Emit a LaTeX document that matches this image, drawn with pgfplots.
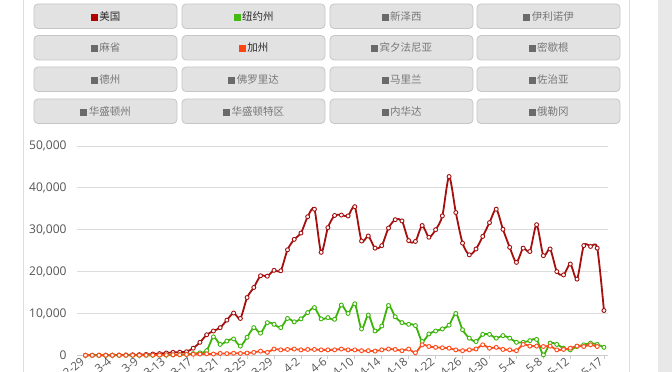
\documentclass[border=0pt]{standalone}
\usepackage{pgfplots}
\pgfplotsset{compat=1.18}
\usepackage{fontspec}
\setmainfont{Open Sans}
\newfontfamily\cjk{Noto Sans CJK SC}
\definecolor{usred}{HTML}{A50F0F}
\definecolor{nygreen}{HTML}{3CB40A}
\definecolor{caorange}{HTML}{FF4A1A}
\definecolor{sqred}{HTML}{B00000}
\definecolor{sqgreen}{HTML}{44BB11}
\definecolor{sqorange}{HTML}{FF4411}
\definecolor{sqgray}{HTML}{6A6A6A}
\definecolor{btnfill}{HTML}{E2E2E2}
\definecolor{btnborder}{HTML}{C6C6C6}
\definecolor{acttext}{HTML}{2A2A2A}
\definecolor{inacttext}{HTML}{777777}
\definecolor{gridgray}{HTML}{DCDCDC}
\definecolor{axisgray}{HTML}{CCCCCC}
\definecolor{labelgray}{HTML}{555555}
\definecolor{panelline}{HTML}{DDDDDD}
\definecolor{scrollgray}{HTML}{E8E8E8}

\newcommand{\btn}[5]{%
  \draw[rounded corners=4pt, fill=btnfill, draw=btnborder, line width=0.8pt]
    (#1,{372-#2}) rectangle ({#1+143},{372-#2-24.5});
  \node[inner sep=0pt, text=#5, font=\cjk\fontsize{10.5}{12}\selectfont]
    at ({#1+71.5},{372-#2-12.3}) {\textcolor{#4}{\rule[-0.3pt]{7pt}{7pt}}\hspace{1.5pt}#3};
}

\begin{document}
\begin{tikzpicture}
\useasboundingbox (0pt,0pt) rectangle (672pt,372pt);
\begin{scope}[x=1pt,y=1pt]
  \fill[white] (0,0) rectangle (672,372);
  \fill[scrollgray] (658,0) rectangle (672,372);
  \draw[panelline, line width=0.8pt] (23,0) -- (23,372);
  \draw[panelline, line width=0.8pt] (629,0) -- (629,372);
  % row 1
  \btn{34}{4}{美国}{sqred}{acttext}
  \btn{182}{4}{纽约州}{sqgreen}{acttext}
  \btn{330}{4}{新泽西}{sqgray}{inacttext}
  \btn{477}{4}{伊利诺伊}{sqgray}{inacttext}
  % row 2
  \btn{34}{35.5}{麻省}{sqgray}{inacttext}
  \btn{182}{35.5}{加州}{sqorange}{acttext}
  \btn{330}{35.5}{宾夕法尼亚}{sqgray}{inacttext}
  \btn{477}{35.5}{密歇根}{sqgray}{inacttext}
  % row 3
  \btn{34}{67}{德州}{sqgray}{inacttext}
  \btn{182}{67}{佛罗里达}{sqgray}{inacttext}
  \btn{330}{67}{马里兰}{sqgray}{inacttext}
  \btn{477}{67}{佐治亚}{sqgray}{inacttext}
  % row 4
  \btn{34}{99}{华盛顿州}{sqgray}{inacttext}
  \btn{182}{99}{华盛顿特区}{sqgray}{inacttext}
  \btn{330}{99}{内华达}{sqgray}{inacttext}
  \btn{477}{99}{俄勒冈}{sqgray}{inacttext}
\end{scope}
\begin{axis}[
  at={(77pt,16.7pt)}, anchor=south west,
  scale only axis, width=531pt, height=209.3pt,
  xmin=-1.26, xmax=77.6, ymin=0, ymax=50000,
  enlargelimits=false, clip=false,
  axis x line*=bottom, axis y line*=left,
  x axis line style={draw=axisgray, line width=0.9pt},
  y axis line style={draw=none},
  ymajorgrids, grid style={draw=gridgray, line width=0.9pt},
  ytick={0,10000,20000,30000,40000,50000},
  scaled y ticks=false,
  /pgf/number format/assume math mode=true,
  yticklabel style={/pgf/number format/fixed, /pgf/number format/1000 sep={,},
     font=\fontsize{12}{14}\selectfont, text=labelgray, xshift=-3pt},
  xtick={0,4,8,12,16,20,24,28,32,36,40,44,48,52,56,60,64,68,72,77},
  xticklabels={2-29,3-4,3-9,3-13,3-17,3-21,3-25,3-29,4-2,4-6,4-10,4-14,4-18,4-22,4-26,4-30,5-4,5-8,5-12,5-17},
  xticklabel style={rotate=40, anchor=east, font=\fontsize{11.5}{13}\selectfont, text=labelgray, xshift=1pt, yshift=1.5pt},
  x tick style={draw=axisgray, line width=0.8pt},
  y tick style={draw=none},
  major tick length=4pt, tick align=outside,
  every axis plot/.append style={smooth, tension=0.45, line width=1.8pt, mark=*, mark size=2pt,
     mark options={fill=white, line width=0.9pt}},
]
\addplot[color=usred] coordinates {
(0,10)(1,10)(2,20)(3,30)(4,40)(5,60)(6,80)(7,120)(8,150)(9,200)
(10,300)(11,400)(12,550)(13,700)(14,750)(15,850)(16,1700)(17,3100)(18,4900)(19,5800)
(20,6600)(21,8400)(22,10100)(23,8800)(24,13800)(25,16200)(26,19000)(27,18900)(28,20300)(29,20200)
(30,25200)(31,27700)(32,29200)(33,33100)(34,34900)(35,24600)(36,30500)(37,33400)(38,33500)(39,33300)
(40,35500)(41,27300)(42,28500)(43,25600)(44,26200)(45,30400)(46,32400)(47,32100)(48,27400)(49,27200)
(50,31000)(51,28200)(52,30000)(53,33300)(54,42700)(55,34100)(56,26800)(57,24000)(58,25400)(59,28400)
(60,31700)(61,34900)(62,30100)(63,25800)(64,22200)(65,25600)(66,24800)(67,31200)(68,23800)(69,25400)
(70,20000)(71,19200)(72,21800)(73,18200)(74,26200)(75,26000)(76,25600)(77,10700)
};
\addplot[color=nygreen] coordinates {
(0,0)(1,0)(2,0)(3,0)(4,0)(5,0)(6,0)(7,0)(8,0)(9,0)
(10,0)(11,30)(12,50)(13,100)(14,150)(15,200)(16,400)(17,600)(18,1100)(19,4400)
(20,2600)(21,3400)(22,3900)(23,2200)(24,4300)(25,6600)(26,5300)(27,7800)(28,7400)(29,6600)
(30,8800)(31,8000)(32,8700)(33,10200)(34,11400)(35,8700)(36,9000)(37,8600)(38,12000)(39,10000)
(40,12300)(41,6300)(42,9600)(43,5800)(44,7000)(45,11900)(46,9200)(47,7800)(48,7400)(49,7100)
(50,3300)(51,5100)(52,5800)(53,6300)(54,7200)(55,10000)(56,6100)(57,4100)(58,3300)(59,5000)
(60,5000)(61,4100)(62,4700)(63,4100)(64,3100)(65,3100)(66,3500)(67,3800)(68,100)(69,2900)
(70,2600)(71,1700)(72,1300)(73,2100)(74,2500)(75,2900)(76,2600)(77,1900)
};
\addplot[color=caorange] coordinates {
(0,0)(1,0)(2,0)(3,0)(4,0)(5,10)(6,10)(7,20)(8,20)(9,30)
(10,50)(11,70)(12,100)(13,120)(14,150)(15,200)(16,250)(17,300)(18,350)(19,300)
(20,450)(21,400)(22,500)(23,450)(24,550)(25,700)(26,1000)(27,700)(28,1500)(29,1300)
(30,1400)(31,1500)(32,1300)(33,1400)(34,1400)(35,1300)(36,1300)(37,1300)(38,1500)(39,1300)
(40,1300)(41,1100)(42,1100)(43,1000)(44,1300)(45,1500)(46,1400)(47,1100)(48,1500)(49,600)
(50,2500)(51,2100)(52,1900)(53,1800)(54,1700)(55,1300)(56,1100)(57,1300)(58,1500)(59,2500)
(60,1700)(61,1900)(62,1400)(63,1300)(64,1100)(65,2600)(66,2200)(67,2200)(68,2100)(69,2200)
(70,1300)(71,1400)(72,1700)(73,2200)(74,2100)(75,2500)(76,2100)
};
\end{axis}
\end{tikzpicture}
\end{document}
